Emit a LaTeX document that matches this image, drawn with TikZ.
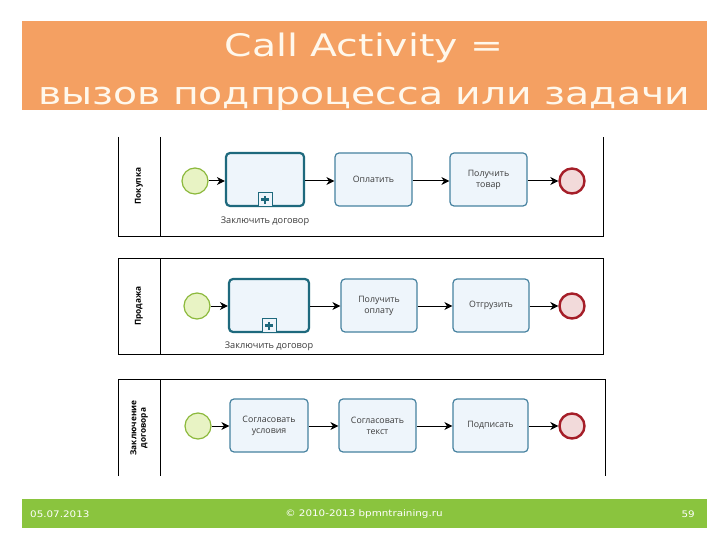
\documentclass[tikz,border=0pt]{standalone}
\usepackage{fontspec}
\setmainfont{Open Sans}
\newfontfamily\titlefont{DejaVu Sans}
\newfontfamily\footfont{DejaVu Sans}
\usetikzlibrary{arrows.meta,calc}
\definecolor{bandorange}{RGB}{244,160,98}
\definecolor{bandgreen}{RGB}{138,196,62}
\definecolor{titletext}{RGB}{255,248,236}
\definecolor{taskfill}{RGB}{238,245,251}
\definecolor{taskdraw}{RGB}{70,130,160}
\definecolor{calldraw}{RGB}{30,105,125}
\definecolor{startfill}{RGB}{232,243,196}
\definecolor{startdraw}{RGB}{140,185,60}
\definecolor{endfill}{RGB}{242,218,218}
\definecolor{enddraw}{RGB}{165,30,40}
\definecolor{tasktext}{RGB}{60,60,60}
\tikzset{
  taskbox/.style={draw=taskdraw, line width=1.2pt, fill=taskfill, rounded corners=4pt,
    minimum height=53pt, inner sep=1pt, align=center, font=\fontsize{8.8}{11}\selectfont, text=tasktext},
  callbox/.style={draw=calldraw, line width=2.2pt, fill=taskfill, rounded corners=4pt,
    minimum height=53pt},
  plusbox/.style={draw=calldraw, line width=1pt, fill=taskfill, minimum size=14pt, inner sep=0pt},
  plussign/.style={draw=calldraw, line width=2.6pt},
  startev/.style={circle, draw=startdraw, line width=1.2pt, fill=startfill, minimum size=26pt, inner sep=0pt},
  endev/.style={circle, draw=enddraw, line width=2.4pt, fill=endfill, minimum size=25pt, inner sep=0pt},
  flow/.style={draw=black, line width=1pt, -{Stealth[length=8pt,width=8pt,inset=2.5pt]}},
  poolline/.style={draw=black, line width=0.9pt},
  lanelabel/.style={rotate=90, font=\bfseries\fontsize{8.3}{9.5}\selectfont, align=center},
  calllabel/.style={font=\fontsize{9.2}{11}\selectfont, text=tasktext},
  titletxt/.style={anchor=base, text=titletext, font=\titlefont\fontsize{31}{36}\selectfont, inner sep=0pt},
  foottxt/.style={text=white, font=\footfont\fontsize{9}{11}\selectfont, inner sep=0pt},
}
\begin{document}
\begin{tikzpicture}[x=1pt,y=-1pt]
\useasboundingbox (0,0) rectangle (720,540);
\fill[white] (0,0) rectangle (720,540);
% title band
\fill[bandorange] (22,21) rectangle (707,110);
\node[titletxt] (t1) at (364,57) {\scalebox{1.27}[1]{Call Activity =}};
\node[titletxt] (t2) at (364,105) {\scalebox{1.27}[1]{вызов подпроцесса или задачи}};
% footer band
\fill[bandgreen] (22,499) rectangle (707,528);
\node[foottxt, anchor=west] (f1) at (30,514) {\scalebox{1.15}[1]{05.07.2013}};
\node[foottxt] (f2) at (364,514) {\scalebox{1.15}[1]{© 2010-2013 bpmntraining.ru}};
\node[foottxt, anchor=east] (f3) at (695,514) {\scalebox{1.15}[1]{59}};

% ---------- Pool 1 ----------
\draw[poolline] (118,137) -- (118,236) -- (603,236) -- (603,137);
\draw[poolline] (160,137) -- (160,236);
\node[lanelabel] (l1) at (139,186) {Покупка};
\node[startev] (s1) at (195,181) {};
\node[callbox, minimum width=78pt] (c1) at (265,179.5) {};
\node[plusbox, anchor=south] (p1) at (c1.south) {};
\draw[plussign] ([xshift=-4pt]p1.center) -- ([xshift=4pt]p1.center);
\draw[plussign] ([yshift=-4pt]p1.center) -- ([yshift=4pt]p1.center);
\node[calllabel] (cl1) at (265,221) {Заключить договор};
\node[taskbox, minimum width=77pt] (a1) at (373.5,179.5) {Оплатить};
\node[taskbox, minimum width=77pt] (b1) at (488.5,179.5) {Получить\\товар};
\node[endev] (e1) at (572,181) {};
\draw[flow] (s1) -- (s1 -| c1.west);
\draw[flow] (c1.east |- s1) -- (s1 -| a1.west);
\draw[flow] (a1.east |- s1) -- (s1 -| b1.west);
\draw[flow] (b1.east |- s1) -- (e1);

% ---------- Pool 2 ----------
\draw[poolline] (118,258) rectangle (603,354);
\draw[poolline] (160,258) -- (160,354);
\node[lanelabel] (l2) at (139,306) {Продажа};
\node[startev] (s2) at (197,306) {};
\node[callbox, minimum width=80pt] (c2) at (269,305.5) {};
\node[plusbox, anchor=south] (p2) at (c2.south) {};
\draw[plussign] ([xshift=-4pt]p2.center) -- ([xshift=4pt]p2.center);
\draw[plussign] ([yshift=-4pt]p2.center) -- ([yshift=4pt]p2.center);
\node[calllabel] (cl2) at (269,346) {Заключить договор};
\node[taskbox, minimum width=76pt] (a2) at (379,305.5) {Получить\\оплату};
\node[taskbox, minimum width=76pt] (b2) at (491,305.5) {Отгрузить};
\node[endev] (e2) at (572,306) {};
\draw[flow] (s2) -- (s2 -| c2.west);
\draw[flow] (c2.east |- s2) -- (s2 -| a2.west);
\draw[flow] (a2.east |- s2) -- (s2 -| b2.west);
\draw[flow] (b2.east |- s2) -- (e2);

% ---------- Pool 3 ----------
\draw[poolline] (118,476) -- (118,379) -- (605,379) -- (605,476);
\draw[poolline] (160,379) -- (160,476);
\node[lanelabel] (l3) at (139,428) {Заключение\\договора};
\node[startev] (s3) at (198,426) {};
\node[taskbox, minimum width=78pt] (c3) at (269,425.5) {Согласовать\\условия};
\node[taskbox, minimum width=77pt] (a3) at (377.5,425.5) {Согласовать\\текст};
\node[taskbox, minimum width=75pt] (b3) at (490.5,425.5) {Подписать};
\node[endev] (e3) at (572,426) {};
\draw[flow] (s3) -- (s3 -| c3.west);
\draw[flow] (c3.east |- s3) -- (s3 -| a3.west);
\draw[flow] (a3.east |- s3) -- (s3 -| b3.west);
\draw[flow] (b3.east |- s3) -- (e3);
\end{tikzpicture}
\end{document}
